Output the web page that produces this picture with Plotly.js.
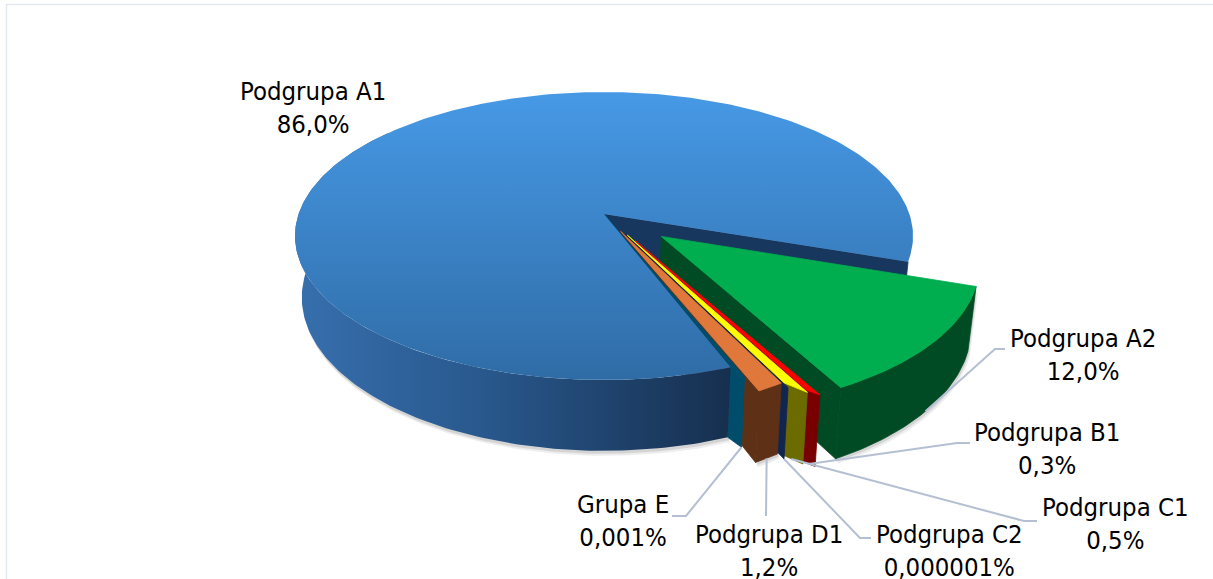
<!DOCTYPE html>
<html><head><meta charset="utf-8">
<script src="https://cdn.plot.ly/plotly-3.0.1.min.js"></script>
<style>html,body{margin:0;padding:0;background:#fff;overflow:hidden}#c{width:1213px;height:579px}</style>
</head><body><div id="c"></div>
<script>
// ---- data ----
const categories = ["Podgrupa A1","Podgrupa A2","Podgrupa B1","Podgrupa C1","Podgrupa C2","Podgrupa D1","Grupa E"];
const values = [86.0,12.0,0.3,0.5,0.000001,1.2,0.001];
const valueLabels = ["86,0%","12,0%","0,3%","0,5%","0,000001%","1,2%","0,001%"];

// ---- styles ----
const topColors  = ["#4495e0","#00ad4f","#ff0000","#ffff00","#10254f","#e0783c","#004d6b"];
const wallColors = ["#17375e","#004b23","#780000","#6b6b00","#10254f","#5e3116","#004d6b"];
const explode    = [0,0.24,0.208,0.165,0.156,0.133,0.058];
const edgeSkew   = [0,0,-0.018,-0.035,0,0.005,0];
const angleNudge = [0,0,-0.9,-0.9,-0.9,-0.9,-0.9];
const firstAngle = 108.8;          // where the second slice starts, clockwise from the back
// ---- label layout (pixels) ----
const labelX = [313,1083,1047,1115,949,769,623];
const labelY = [107,354,448,523,550,550,520];
const elbowX = [null,995,957,1024,860,766,686];
const elbowY = [null,349,443,521,538,516,516];
const endX   = [null,1005,970,1037,871,766,672];
const endY   = [null,349,443,521,538,516,516];

// ---- projection of the tilted disc ----
const K=0.1528, RX=305.4, RY=140.6, CX=604, CY=214, DEPTH=60, INSET=0.978;
const rad=d=>d*Math.PI/180;
const dir=a=>[Math.sin(rad(a)),Math.cos(rad(a))];
function proj(p,low){
  const s=1/(1+K*p[1]);
  return [CX+RX*p[0]*s*(low?INSET:1), CY-RY*p[1]*s+(low?DEPTH*s:0)];
}
const total=values.reduce((a,b)=>a+b,0);
let cum=firstAngle;
const spans=[];
// slices 2..n run clockwise from firstAngle, the first slice takes what remains
for(let i=1;i<values.length;i++){const w=values[i]/total*360;spans[i]=[cum,cum+w];cum+=w;}
spans[0]=[cum,cum+values[0]/total*360];

function slice(i){
  const a0=spans[i][0]+angleNudge[i], a1=spans[i][1]+angleNudge[i], mid=(a0+a1)/2, half=(a1-a0)/2||1;
  const md=dir(mid), t=explode[i];
  const apex=[t*md[0],t*md[1]];
  const at=a=>{const r=1+edgeSkew[i]*(a-mid)/half,d=dir(a);return [apex[0]+r*d[0],apex[1]+r*d[1]];};
  return {a0,a1,mid,apex,at};
}
function arc(sl,from,to,low){
  const n=Math.max(2,Math.ceil(Math.abs(to-from)));const o=[];
  for(let j=0;j<=n;j++){o.push(proj(sl.at(from+(to-from)*j/n),low));}
  return o;
}
const traces=[];
function poly(pts,opt){
  const xs=pts.map(p=>p[0]).concat([pts[0][0]]),ys=pts.map(p=>p[1]).concat([pts[0][1]]);
  traces.push(Object.assign({type:"scatter",mode:"lines",x:xs,y:ys,fill:"toself",line:{width:0},hoverinfo:"skip",showlegend:false},opt));
}
function flat(pts,color){poly(pts,{fillcolor:color,line:{width:0.8,color:color}});}
function soft(pts,color){poly(pts,{fillcolor:color});}
const outerWall=(sl,a,b)=>arc(sl,a,b,false).concat(arc(sl,b,a,true));
const radialWall=(sl,a)=>[proj(sl.apex,false),proj(sl.at(a),false),proj(sl.at(a),true),proj(sl.apex,true)];
const topFace=sl=>[proj(sl.apex,false)].concat(arc(sl,sl.a0,sl.a1,false));
const shifted=(pts,dx,dy)=>pts.map(p=>[p[0]+dx,p[1]+dy]);

const S=[0,1,2,3,4,5,6].map(slice);
const blue=S[0], green=S[1];
const blueWall=outerWall(blue,blue.a0,blue.a0+150);

// soft shadow under the solid
[[2,5,0.07],[1,3,0.10]].forEach(o=>{
  [blueWall,outerWall(green,green.a0,green.a1),outerWall(S[5],S[5].a0,S[5].a1),outerWall(S[3],S[3].a0,S[2].a1)]
   .forEach(w=>soft(shifted(w,o[0],o[1]),"rgba(0,0,0,"+o[2]+")"));
});

// back wall of the notch in the big slice
flat(radialWall(blue,blue.a1),wallColors[0]);
// exploded big slice
flat(radialWall(green,green.a1),wallColors[1]);
flat(outerWall(green,green.a0,green.a1),wallColors[1]);
flat(topFace(green),topColors[1]);
// narrow slices, walls first
[2,3,4,5].forEach(i=>{
  flat(radialWall(S[i],S[i].a1),wallColors[i]);
  if(S[i].a1-S[i].a0>0.01) flat(outerWall(S[i],S[i].a0,S[i].a1),wallColors[i]);
});
// smallest slice: wall seen between the big slice and its neighbour
{
  const e=S[6], p=e.at(e.a1), b=blue.at(blue.a0);
  flat([proj(blue.apex,false),proj(p,false),proj(p,true),proj(b,true),proj(b,false)],wallColors[6]);
}
// big slice (the y axis runs downward, so the vertical ramp is listed bottom colour first)
poly(blueWall,{fillgradient:{type:"horizontal",colorscale:[[0,"#376fae"],[0.45,"#28578b"],[1,"#162f4e"]]},fillcolor:"#2a5a8f"});
poly(topFace(blue),{fillgradient:{type:"vertical",colorscale:[[0,"#2f6ca6"],[1,"#4799e6"]]},fillcolor:topColors[0]});
// top faces of narrow slices
[2,3,5].forEach(i=>flat(topFace(S[i]),topColors[i]));

// leader lines start at the mid-angle foot of their slice
for(let i=1;i<categories.length;i++){
  const f=proj(S[i].at(S[i].mid),true);
  traces.push({type:"scatter",mode:"lines",x:[f[0],elbowX[i],endX[i]],y:[f[1],elbowY[i],endY[i]],
    line:{color:"#b4c0d2",width:2},hoverinfo:"skip",showlegend:false});
}

const annotations=categories.map((c,i)=>({x:labelX[i],y:labelY[i],xref:"x",yref:"y",text:c+"<br>"+valueLabels[i],
  showarrow:false,xanchor:"center",yanchor:"middle",align:"center",font:{size:25.5,color:"#000"}}));

Plotly.newPlot("c",traces,{
  width:1213,height:579,margin:{l:0,r:0,t:0,b:0},paper_bgcolor:"#fff",plot_bgcolor:"#fff",showlegend:false,
  font:{family:"'DejaVu Sans Condensed','DejaVu Sans',sans-serif"},
  xaxis:{range:[0,1213],visible:false,fixedrange:true},
  yaxis:{range:[579,0],visible:false,fixedrange:true},
  annotations:annotations,
  shapes:[{type:"rect",xref:"x",yref:"y",x0:6.5,y0:4.5,x1:1300,y1:700,line:{color:"#e3e9f1",width:1.5},layer:"below"}]
},{displayModeBar:false,staticPlot:true});
</script></body></html>
